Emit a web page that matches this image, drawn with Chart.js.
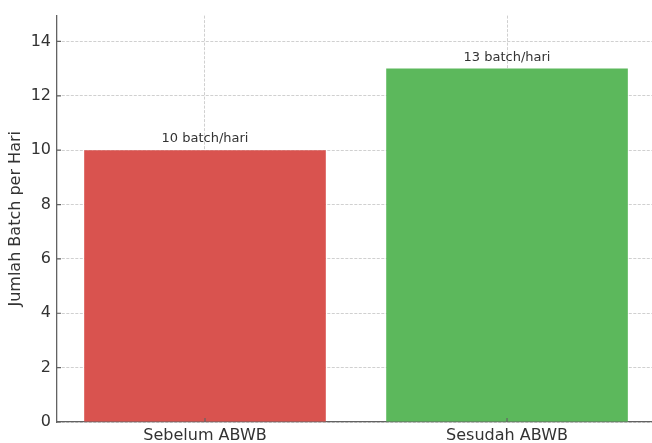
<!DOCTYPE html>
<html>
<head>
<meta charset="utf-8">
<script src="https://cdn.jsdelivr.net/npm/chart.js@4/dist/chart.umd.min.js"></script>
<style>
  html, body { margin: 0; padding: 0; background: #ffffff; overflow: hidden; }
  #wrap { width: 652px; height: 443px; }
</style>
</head>
<body>
<div id="wrap"><canvas id="c" width="652" height="443"></canvas></div>
<script>
// Production batches per day, before and after ABWB
const categories = ['Sebelum ABWB', 'Sesudah ABWB'];
const batchesPerDay = [10, 13];
const barColors = ['#d9534f', '#5cb85c'];
const yTicks = [0, 2, 4, 6, 8, 10, 12, 14];
const valueUnit = 'batch/hari';

const FONT = '"DejaVu Sans", sans-serif';
const TEXT = '#333333';
const SPINE = '#626262';
const GRID = 'rgba(170,170,170,0.55)';

// Short inward tick marks on both axes
const innerTicks = {
  id: 'innerTicks',
  afterDraw(chart) {
    const ctx = chart.ctx;
    const x = chart.scales.x, y = chart.scales.y;
    const area = chart.chartArea;
    ctx.save();
    ctx.strokeStyle = SPINE;
    ctx.lineWidth = 1.2;
    ctx.beginPath();
    y.ticks.forEach(t => {
      const py = y.getPixelForValue(t.value);
      ctx.moveTo(area.left, py);
      ctx.lineTo(area.left + 4, py);
    });
    x.ticks.forEach(t => {
      const px = x.getPixelForValue(t.value);
      ctx.moveTo(px, area.bottom);
      ctx.lineTo(px, area.bottom - 4);
    });
    ctx.stroke();
    ctx.restore();
  }
};

// Value labels above each bar
const valueLabels = {
  id: 'valueLabels',
  afterDatasetsDraw(chart) {
    const ctx = chart.ctx;
    const meta = chart.getDatasetMeta(0);
    ctx.save();
    ctx.font = '13px ' + FONT;
    ctx.fillStyle = TEXT;
    ctx.textAlign = 'center';
    ctx.textBaseline = 'alphabetic';
    meta.data.forEach((bar, i) => {
      ctx.fillText(batchesPerDay[i] + ' ' + valueUnit, bar.x, bar.y - 8);
    });
    ctx.restore();
  }
};

new Chart(document.getElementById('c'), {
  type: 'bar',
  data: {
    datasets: [{
      data: batchesPerDay.map((v, i) => ({ x: i, y: v })),
      backgroundColor: barColors,
      borderWidth: 0,
      categoryPercentage: 1,
      barPercentage: 0.8
    }]
  },
  options: {
    responsive: false,
    animation: false,
    layout: { padding: { top: 14, right: 0, bottom: 0, left: 0 } },
    plugins: { legend: { display: false }, tooltip: { enabled: false } },
    scales: {
      x: {
        type: 'linear',
        min: -0.49,
        max: 1.48,
        offset: false,
        z: 1,
        afterBuildTicks(scale) {
          scale.ticks = categories.map((_, i) => ({ value: i }));
        },
        afterFit(scale) { scale.height = 21; },
        ticks: {
          callback: (v) => categories[v] ?? '',
          font: { family: FONT, size: 16 },
          color: TEXT,
          padding: 4,
          maxRotation: 0,
          autoSkip: false
        },
        grid: { color: GRID, lineWidth: 1, drawTicks: false, offset: false },
        border: { display: true, color: SPINE, width: 1.3, dash: [3, 1.5] }
      },
      y: {
        min: 0,
        max: 14.95,
        z: 1,
        afterBuildTicks(scale) {
          scale.ticks = yTicks.map(v => ({ value: v }));
        },
        afterFit(scale) { scale.width = 57; },
        ticks: {
          font: { family: FONT, size: 16 },
          color: TEXT,
          padding: 6
        },
        grid: { color: GRID, lineWidth: 1, drawTicks: false },
        border: { display: true, color: SPINE, width: 1.3, dash: [3, 1.5] },
        title: {
          display: true,
          text: 'Jumlah Batch per Hari',
          font: { family: FONT, size: 16 },
          color: TEXT,
          padding: { top: 6, bottom: 0 }
        }
      }
    }
  },
  plugins: [valueLabels, innerTicks]
});
</script>
</body>
</html>
